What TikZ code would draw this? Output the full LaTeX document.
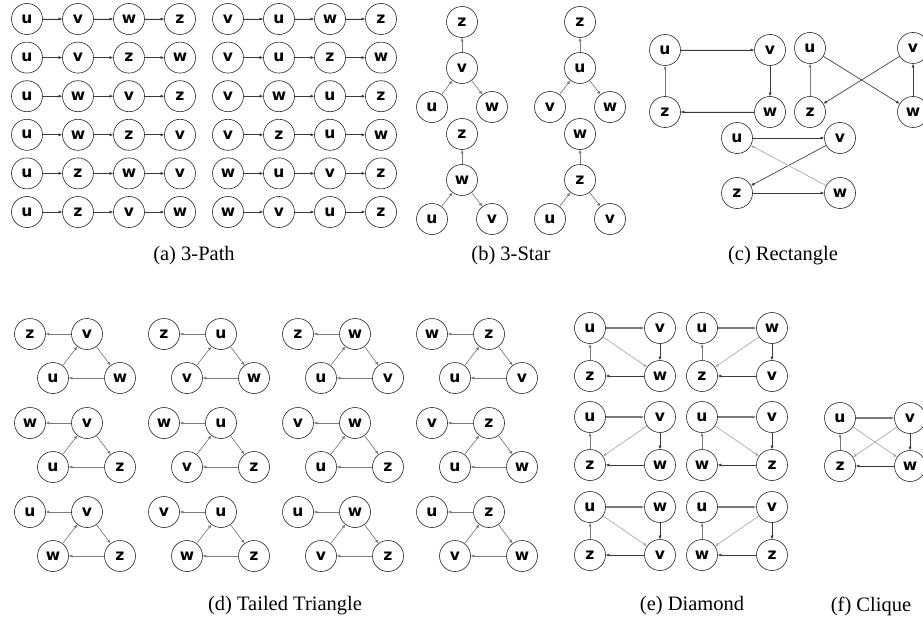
\documentclass[tikz,border=0pt]{standalone}
\usepackage{fontspec}
\setmainfont{Liberation Serif}
\newfontfamily\nodefont{DejaVu Sans}
\usetikzlibrary{arrows.meta}
\definecolor{edgedark}{HTML}{3A3A3A}
\definecolor{edgemid}{HTML}{7A7A7A}
\definecolor{edgelight}{HTML}{A8A8A8}
\tikzset{
  vtx/.style={circle, draw=black!85, line width=0.6pt, minimum size=31pt,
    inner sep=0pt, font=\nodefont\bfseries\fontsize{15.5}{15.5}\selectfont},
  arr/.style={-{Latex[length=3.6pt,width=3.2pt]}, line width=0.6pt},
  ed/.style={arr, draw=edgedark, fill=edgedark},
  em/.style={arr, draw=edgemid, fill=edgemid},
  el/.style={arr, draw=edgelight, fill=edgelight},
  eg/.style={arr, draw=edgemid, fill=edgemid, line width=1.1pt},
  captxt/.style={font=\fontsize{20.5}{22}\selectfont, inner sep=0pt}
}
% a directed path of four vertices
\newcommand{\PathRow}[7]{%
  \node[vtx] (#1a) at (#2,#3) {#4};
  \node[vtx] (#1b) at (#2+51,#3) {#5};
  \node[vtx] (#1c) at (#2+102,#3) {#6};
  \node[vtx] (#1d) at (#2+153,#3) {#7};
  \draw[ed] (#1a) -- (#1b);
  \draw[ed] (#1b) -- (#1c);
  \draw[ed] (#1c) -- (#1d);
}
% a star: left -> centre -> right, centre -> top
\newcommand{\StarG}[7]{%
  \node[vtx] (#1t) at (#2,#3) {#4};
  \node[vtx] (#1c) at (#2,#3+46) {#5};
  \node[vtx] (#1l) at (#2-30,#3+85) {#6};
  \node[vtx] (#1r) at (#2+30,#3+85) {#7};
  \draw[em] (#1l) -- (#1c);
  \draw[em] (#1c) -- (#1r);
  \draw[em] (#1c) -- (#1t);
}
% a triangle with a tail: hub -> tail, bl -> hub -> br -> bl
\newcommand{\TailTri}[7]{%
  \node[vtx] (#1t) at (#2,#3) {#4};
  \node[vtx] (#1h) at (#2+57,#3) {#5};
  \node[vtx] (#1l) at (#2+23,#3+44) {#6};
  \node[vtx] (#1r) at (#2+90,#3+44) {#7};
  \draw[em] (#1h) -- (#1t);
  \draw[em] (#1l) -- (#1h);
  \draw[em] (#1h) -- (#1r);
  \draw[em] (#1r) -- (#1l);
}
% a four-cycle tl -> tr -> br -> bl -> tl with one chord
\newcommand{\DiaG}[9]{%
  \node[vtx] (#1tl) at (#2,#3) {#4};
  \node[vtx] (#1tr) at (#2+70,#3) {#5};
  \node[vtx] (#1bl) at (#2,#3+48) {#6};
  \node[vtx] (#1br) at (#2+70,#3+48) {#7};
  \draw[eg] (#1tl) -- (#1tr);
  \draw[ed] (#1tr) -- (#1br);
  \draw[ed] (#1br) -- (#1bl);
  \draw[em] (#1bl) -- (#1tl);
  \draw[el] (#1#8) -- (#1#9);
}
\begin{document}
\begin{tikzpicture}[x=1pt,y=-1pt]
\useasboundingbox (0,0) rectangle (923,623);

% (a) 3-Path
\PathRow{pa1}{27}{19}{u}{v}{w}{z}
\PathRow{pa2}{27}{57.6}{u}{v}{z}{w}
\PathRow{pa3}{27}{96.2}{u}{w}{v}{z}
\PathRow{pa4}{27}{134.8}{u}{w}{z}{v}
\PathRow{pa5}{27}{173.4}{u}{z}{w}{v}
\PathRow{pa6}{27}{212}{u}{z}{v}{w}
\PathRow{pb1}{228}{19}{v}{u}{w}{z}
\PathRow{pb2}{228}{57.6}{v}{u}{z}{w}
\PathRow{pb3}{228}{96.2}{v}{w}{u}{z}
\PathRow{pb4}{228}{134.8}{v}{z}{u}{w}
\PathRow{pb5}{228}{173.4}{w}{u}{v}{z}
\PathRow{pb6}{228}{212}{w}{v}{u}{z}
\node[captxt] (capa) at (194,256) {(a) 3-Path};

% (b) 3-Star
\StarG{sa}{462}{22}{z}{v}{u}{w}
\StarG{sb}{580}{22}{z}{u}{v}{w}
\StarG{sc}{462}{134}{z}{w}{u}{v}
\StarG{sd}{580}{134}{w}{z}{u}{v}
\node[captxt] (capb) at (511,256) {(b) 3-Star};

% (c) Rectangle
\node[vtx] (r1u) at (665,50) {u};
\node[vtx] (r1v) at (770,50) {v};
\node[vtx] (r1z) at (665,112) {z};
\node[vtx] (r1w) at (770,112) {w};
\draw[ed] (r1u) -- (r1v);
\draw[ed] (r1v) -- (r1w);
\draw[ed] (r1w) -- (r1z);
\draw[em] (r1z) -- (r1u);
\node[vtx] (r2u) at (810,48) {u};
\node[vtx] (r2v) at (913,48) {v};
\node[vtx] (r2z) at (810,112) {z};
\node[vtx] (r2w) at (913,112) {w};
\draw[ed] (r2u) -- (r2w);
\draw[ed] (r2w) -- (r2v);
\draw[ed] (r2v) -- (r2z);
\draw[em] (r2z) -- (r2u);
\node[vtx] (r3u) at (737,138) {u};
\node[vtx] (r3v) at (840,138) {v};
\node[vtx] (r3z) at (737,193) {z};
\node[vtx] (r3w) at (840,193) {w};
\draw[ed] (r3u) -- (r3v);
\draw[ed] (r3v) -- (r3z);
\draw[ed] (r3z) -- (r3w);
\draw[el] (r3w) -- (r3u);
\node[captxt] (capc) at (783,256) {(c) Rectangle};

% (d) Tailed Triangle
\TailTri{ta}{30}{334}{z}{v}{u}{w}
\TailTri{tb}{164}{334}{z}{u}{v}{w}
\TailTri{tc}{298}{334}{z}{w}{u}{v}
\TailTri{td}{432}{334}{w}{z}{u}{v}
\TailTri{te}{30}{423}{w}{v}{u}{z}
\TailTri{tf}{164}{423}{w}{u}{v}{z}
\TailTri{tg}{298}{423}{v}{w}{u}{z}
\TailTri{th}{432}{423}{v}{z}{u}{w}
\TailTri{ti}{30}{512}{u}{v}{w}{z}
\TailTri{tj}{164}{512}{v}{u}{w}{z}
\TailTri{tk}{298}{512}{u}{w}{v}{z}
\TailTri{tl}{432}{512}{u}{z}{v}{w}
\node[captxt] (capd) at (285,606) {(d) Tailed Triangle};

% (e) Diamond
\DiaG{da}{590}{328}{u}{v}{z}{w}{tl}{br}
\DiaG{db}{702}{328}{u}{w}{z}{v}{tr}{bl}
\DiaG{dc}{590}{417}{u}{v}{z}{w}{tr}{bl}
\DiaG{dd}{702}{417}{u}{v}{w}{z}{tl}{br}
\DiaG{de}{590}{507}{u}{w}{z}{v}{tl}{br}
\DiaG{df}{702}{507}{u}{v}{w}{z}{tr}{bl}
\node[captxt] (cape) at (692,606) {(e) Diamond};

% (f) Clique
\DiaG{cq}{840}{418}{u}{v}{z}{w}{tl}{br}
\draw[el] (cqtr) -- (cqbl);
\node[captxt] (capf) at (871,606) {(f) Clique};
\end{tikzpicture}
\end{document}
